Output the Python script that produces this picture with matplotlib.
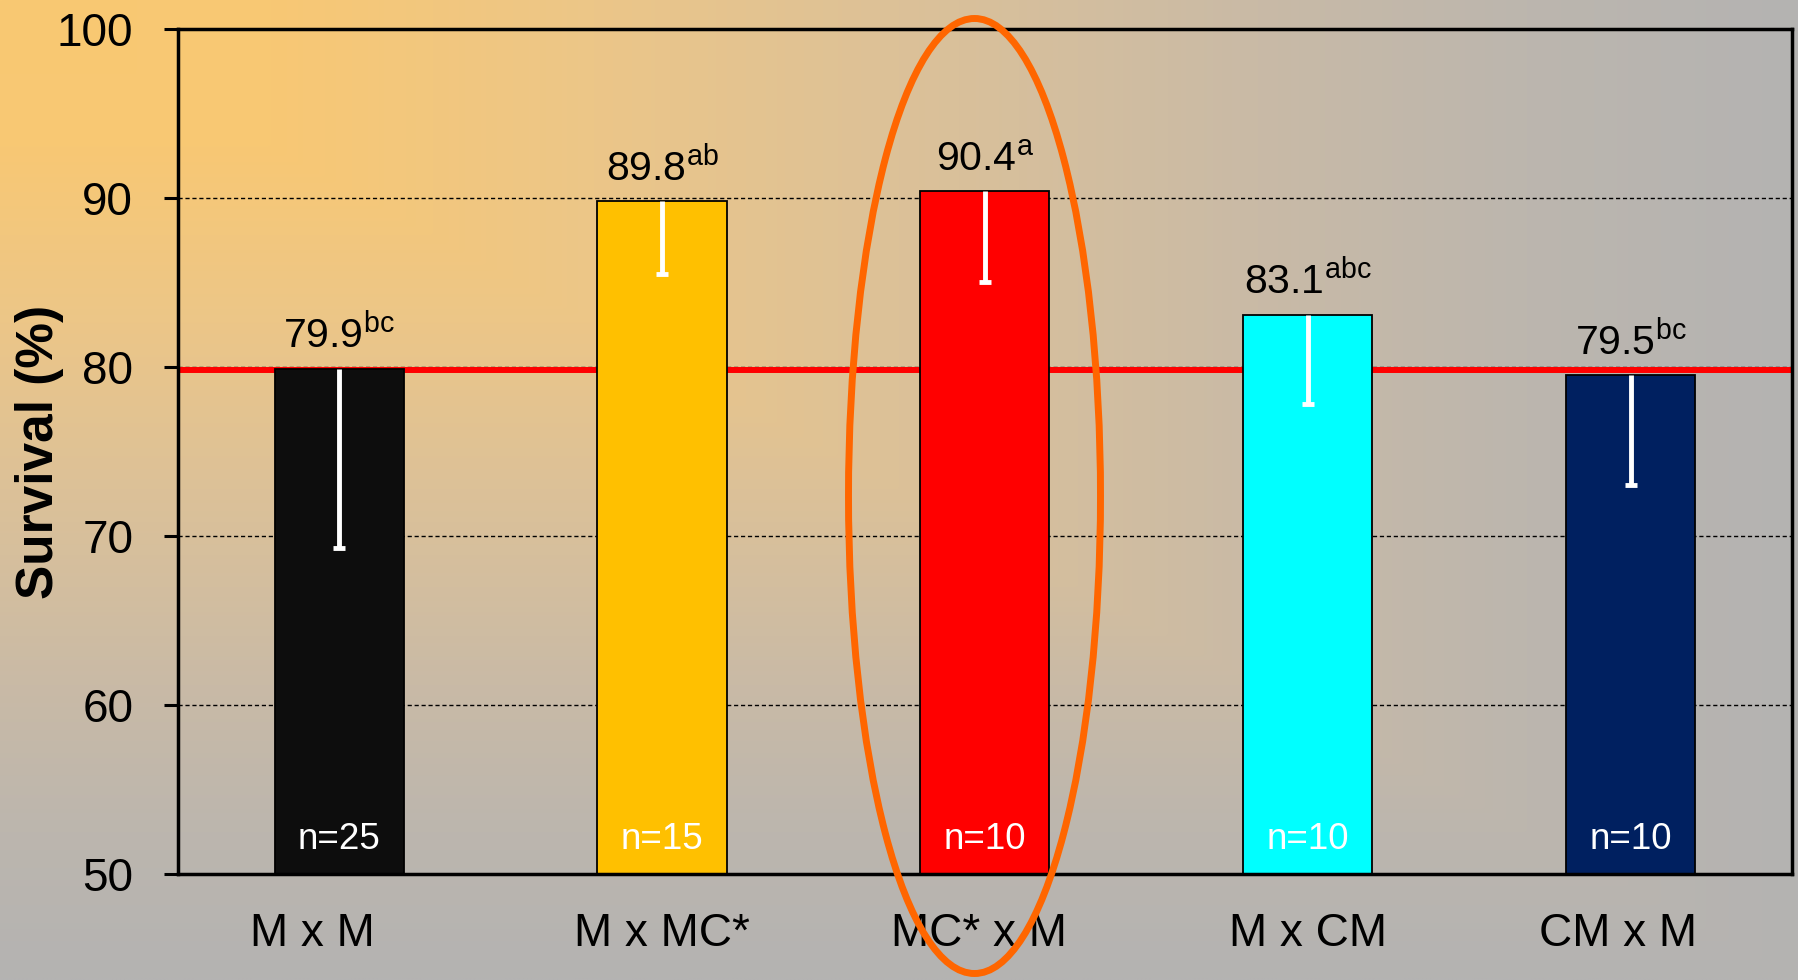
import numpy as np
import matplotlib
matplotlib.use("Agg")
import matplotlib.pyplot as plt
from matplotlib.patches import Ellipse
from matplotlib.transforms import ScaledTranslation

# ---- data ----
crosses = ["M x M", "M x MC*", "MC* x M", "M x CM", "CM x M"]
survival = [79.9, 89.8, 90.4, 83.1, 79.5]
lower_err = [10.6, 4.3, 5.4, 5.3, 6.5]
letters = ["bc", "ab", "a", "abc", "bc"]
sample_sizes = [25, 15, 10, 10, 10]
bar_colors = ["#0D0D0D", "#FFC000", "#FF0000", "#00FFFF", "#002060"]
reference_level = 79.8
y_ticks = [50, 60, 70, 80, 90, 100]

plt.rcParams["font.family"] = ["Liberation Sans", "DejaVu Sans"]
plt.rcParams["mathtext.fontset"] = "custom"
plt.rcParams["mathtext.rm"] = "Liberation Sans"
plt.rcParams["mathtext.it"] = "Liberation Sans:italic"
plt.rcParams["mathtext.bf"] = "Liberation Sans:bold"

W, H, DPI = 1798, 980, 100
fig = plt.figure(figsize=(W / DPI, H / DPI), dpi=DPI)

# ---- warm-to-grey rectangular gradient spreading from the top-left corner ----
gh, gw = 245, 450
u, v = np.meshgrid(np.linspace(0, 1, gw), np.linspace(0, 1, gh))
t = np.maximum(u, v)
stops = np.array([0.0, 0.15, 0.33, 0.5, 0.6, 0.7, 0.85, 1.0])
cols = np.array([
    [249, 201, 114],
    [248, 200, 116],
    [236, 198, 136],
    [220, 193, 152],
    [211, 190, 159],
    [201, 186, 166],
    [188, 182, 174],
    [180, 179, 178],
]) / 255.0
img = np.dstack([np.interp(t, stops, cols[:, k]) for k in range(3)])
bg = fig.add_axes([0, 0, 1, 1])
bg.imshow(img, aspect="auto", extent=[0, 1, 0, 1], origin="upper",
          interpolation="bilinear")
bg.set_axis_off()
bg.set_zorder(0)

# ---- main axes ----
ax = fig.add_axes([0.0988, 0.1082, 0.8979, 0.8622])
ax.set_zorder(1)
ax.set_facecolor("none")

x = np.arange(len(crosses))
ax.set_xlim(-0.5, len(crosses) - 0.5)
ax.set_ylim(50, 100)
ax.set_yticks(y_ticks)

ax.yaxis.grid(True, linestyle=(0, (3, 2)), color="black", linewidth=1.0)
ax.set_axisbelow(True)

ax.axhline(reference_level, color="#FF0000", linewidth=4.3, zorder=1.5)

ax.bar(x, survival, width=0.4, bottom=0, color=bar_colors,
       edgecolor="black", linewidth=1.3, zorder=2)

eb = ax.errorbar(x, survival, yerr=[lower_err, np.zeros(len(x))],
                 fmt="none", ecolor="white", elinewidth=3.5,
                 capsize=4.3, capthick=3.5, zorder=3)
for cap in eb[1]:
    if np.allclose(cap.get_ydata(), survival):
        cap.set_visible(False)

# mean values with significance letters
for xi, val, sig in zip(x, survival, letters):
    ax.annotate(rf"$\mathrm{{{val:.1f}}}^{{\mathrm{{{sig}}}}}$",
                xy=(xi, val), xytext=(0, 14.8), textcoords="offset points",
                ha="center", va="baseline", fontsize=29.5, color="black",
                zorder=4)

# sample sizes at the bar base
for xi, n in zip(x, sample_sizes):
    ax.annotate(f"n={n}", xy=(xi, 50), xytext=(0, 18.3),
                textcoords="offset points", ha="center", va="baseline",
                fontsize=26.5, color="white", zorder=4)

ax.set_xticks(x)
ax.set_xticklabels(crosses, fontsize=33)
ax.tick_params(axis="x", length=0, pad=27.7)
ax.tick_params(axis="y", direction="out", length=10, width=2.2,
               labelsize=33, pad=22)

label_shift_px = [-27, 0, -6, 0, -13]
for lbl, dx in zip(ax.get_xticklabels(), label_shift_px):
    lbl.set_transform(lbl.get_transform()
                      + ScaledTranslation(dx / DPI, 0, fig.dpi_scale_trans))

for side in ["left", "right", "top", "bottom"]:
    ax.spines[side].set_linewidth(2.5)
    ax.spines[side].set_color("black")

ax.set_ylabel("Survival (%)", fontsize=37, fontweight="bold")
ax.yaxis.set_label_coords(-0.0704, 0.5)

# highlight ring around the MC* x M cross
ring = Ellipse((974.5 / W, 1 - 496 / H), 252 / W, 955 / H,
               transform=fig.transFigure, fill=False,
               edgecolor="#FF6600", linewidth=5, zorder=10)
fig.add_artist(ring)

fig.savefig("out.png", dpi=DPI)
